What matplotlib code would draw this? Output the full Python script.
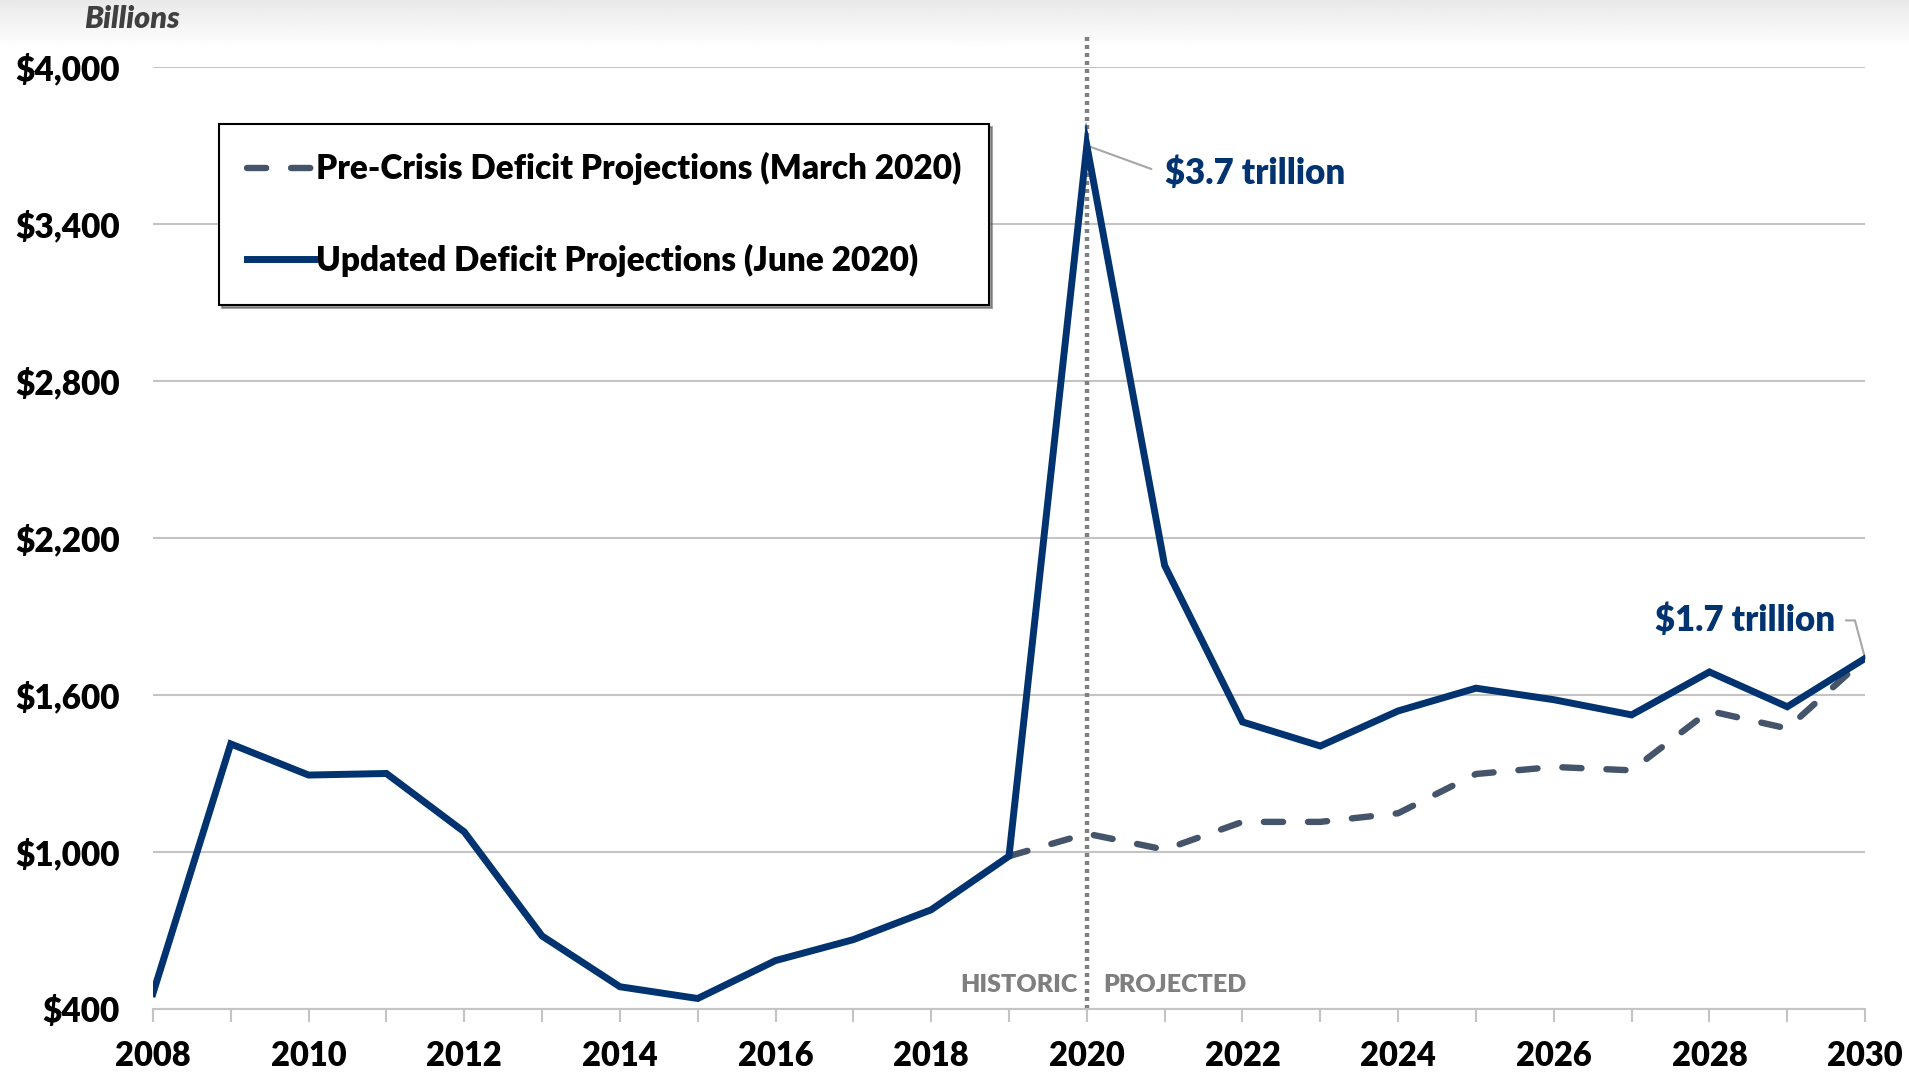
import numpy as np
import matplotlib.pyplot as plt
from matplotlib.ticker import FuncFormatter, MultipleLocator

plt.rcParams['font.family'] = ['Lato', 'DejaVu Sans']

# Federal deficit, billions of dollars
years = list(range(2008, 2031))
updated = [459, 1413, 1294, 1300, 1077, 679, 485, 440, 585, 665, 779, 984,
           3700, 2095, 1497, 1405, 1539, 1626, 1582, 1524, 1688, 1555, 1740]
pre_years = list(range(2019, 2031))
pre_crisis = [984, 1070, 1009, 1115, 1115, 1148, 1298, 1325, 1312, 1539, 1472, 1740]
y_ticks = [400, 1000, 1600, 2200, 2800, 3400, 4000]

navy = '#00336f'
slate = '#44546a'
grid_grey = '#c4c4c4'

fig = plt.figure(figsize=(19.09, 10.76), dpi=100)

# light shading along the top edge
bg = fig.add_axes([0, 0.955, 1, 0.045], zorder=-5)
bg.imshow(np.linspace(0.91, 1.0, 50).reshape(-1, 1), cmap='gray', vmin=0, vmax=1,
          aspect='auto', extent=[0, 1, 0, 1])
bg.axis('off')

ax = fig.add_axes([0.0801, 0.0623, 0.8969, 0.8754])
ax.set_xlim(2008, 2030)
ax.set_ylim(400, 4000)

ax.plot(pre_years, pre_crisis, color=slate, lw=4.6, dashes=(3.0, 3.9),
        dash_capstyle='round', solid_capstyle='round', zorder=3,
        label='Pre-Crisis Deficit Projections (March 2020)')
ax.plot(years, updated, color=navy, lw=5, solid_joinstyle='miter', zorder=4,
        label='Updated Deficit Projections (June 2020)')

# historic / projected divider
ax.plot([2020, 2020], [400, 4120], color='#808080', lw=3.2, ls=(0, (0.9, 0.9)),
        clip_on=False, zorder=2)
ax.text(2019.88, 450, 'HISTORIC', color='#7f7f7f', fontsize=18, fontweight='heavy',
        ha='right', va='bottom')
ax.text(2020.21, 450, 'PROJECTED', color='#7f7f7f', fontsize=18, fontweight='heavy',
        ha='left', va='bottom')

# callouts
peak = updated[years.index(2020)]
last = updated[-1]
ax.annotate(f'${peak / 1000:.1f} trillion', xy=(2020, peak), xytext=(2021.0, 3593),
            color=navy, fontsize=25, fontweight='heavy', ha='left', va='center',
            arrowprops=dict(arrowstyle='-', color='#a6a6a6', lw=1.5,
                            connectionstyle='angle,angleA=0,angleB=-20,rad=0',
                            shrinkA=8, shrinkB=0))
ax.annotate(f'${last / 1000:.1f} trillion', xy=(2030, last), xytext=(2029.61, 1885),
            color=navy, fontsize=25, fontweight='heavy', ha='right', va='center',
            arrowprops=dict(arrowstyle='-', color='#a6a6a6', lw=1.5,
                            connectionstyle='angle,angleA=0,angleB=-75,rad=0',
                            shrinkA=6, shrinkB=0))

ax.set_yticks(y_ticks)
ax.yaxis.set_major_formatter(FuncFormatter(lambda v, p: f'${v:,.0f}'))
ax.xaxis.set_major_locator(MultipleLocator(2))
ax.xaxis.set_minor_locator(MultipleLocator(1))
ax.grid(axis='y', color=grid_grey, lw=1.5)
ax.set_axisbelow(True)
for s in ['top', 'right', 'left']:
    ax.spines[s].set_visible(False)
ax.spines['bottom'].set_color(grid_grey)
ax.spines['bottom'].set_linewidth(1.5)
ax.tick_params(axis='y', length=0, pad=24, labelsize=24)
ax.tick_params(axis='x', which='both', length=9, width=1.5, color=grid_grey,
               pad=13, labelsize=23.5)
for lab in ax.get_xticklabels() + ax.get_yticklabels():
    lab.set_fontweight('heavy')

fig.text(0.044, 0.982, 'Billions', fontsize=22, fontweight='heavy', style='italic',
         color='#404040', ha='left', va='center')

leg = ax.legend(loc='upper left', bbox_to_anchor=(0.0386, 0.9395), borderaxespad=0,
                prop={'weight': 'heavy', 'size': 24}, frameon=True,
                fancybox=False, shadow=True, handlelength=2.0, handletextpad=0.05,
                labelspacing=1.75, borderpad=0.85)
leg.get_frame().set_edgecolor('black')
leg.get_frame().set_linewidth(1.5)

fig.savefig('out.png', dpi=100)
